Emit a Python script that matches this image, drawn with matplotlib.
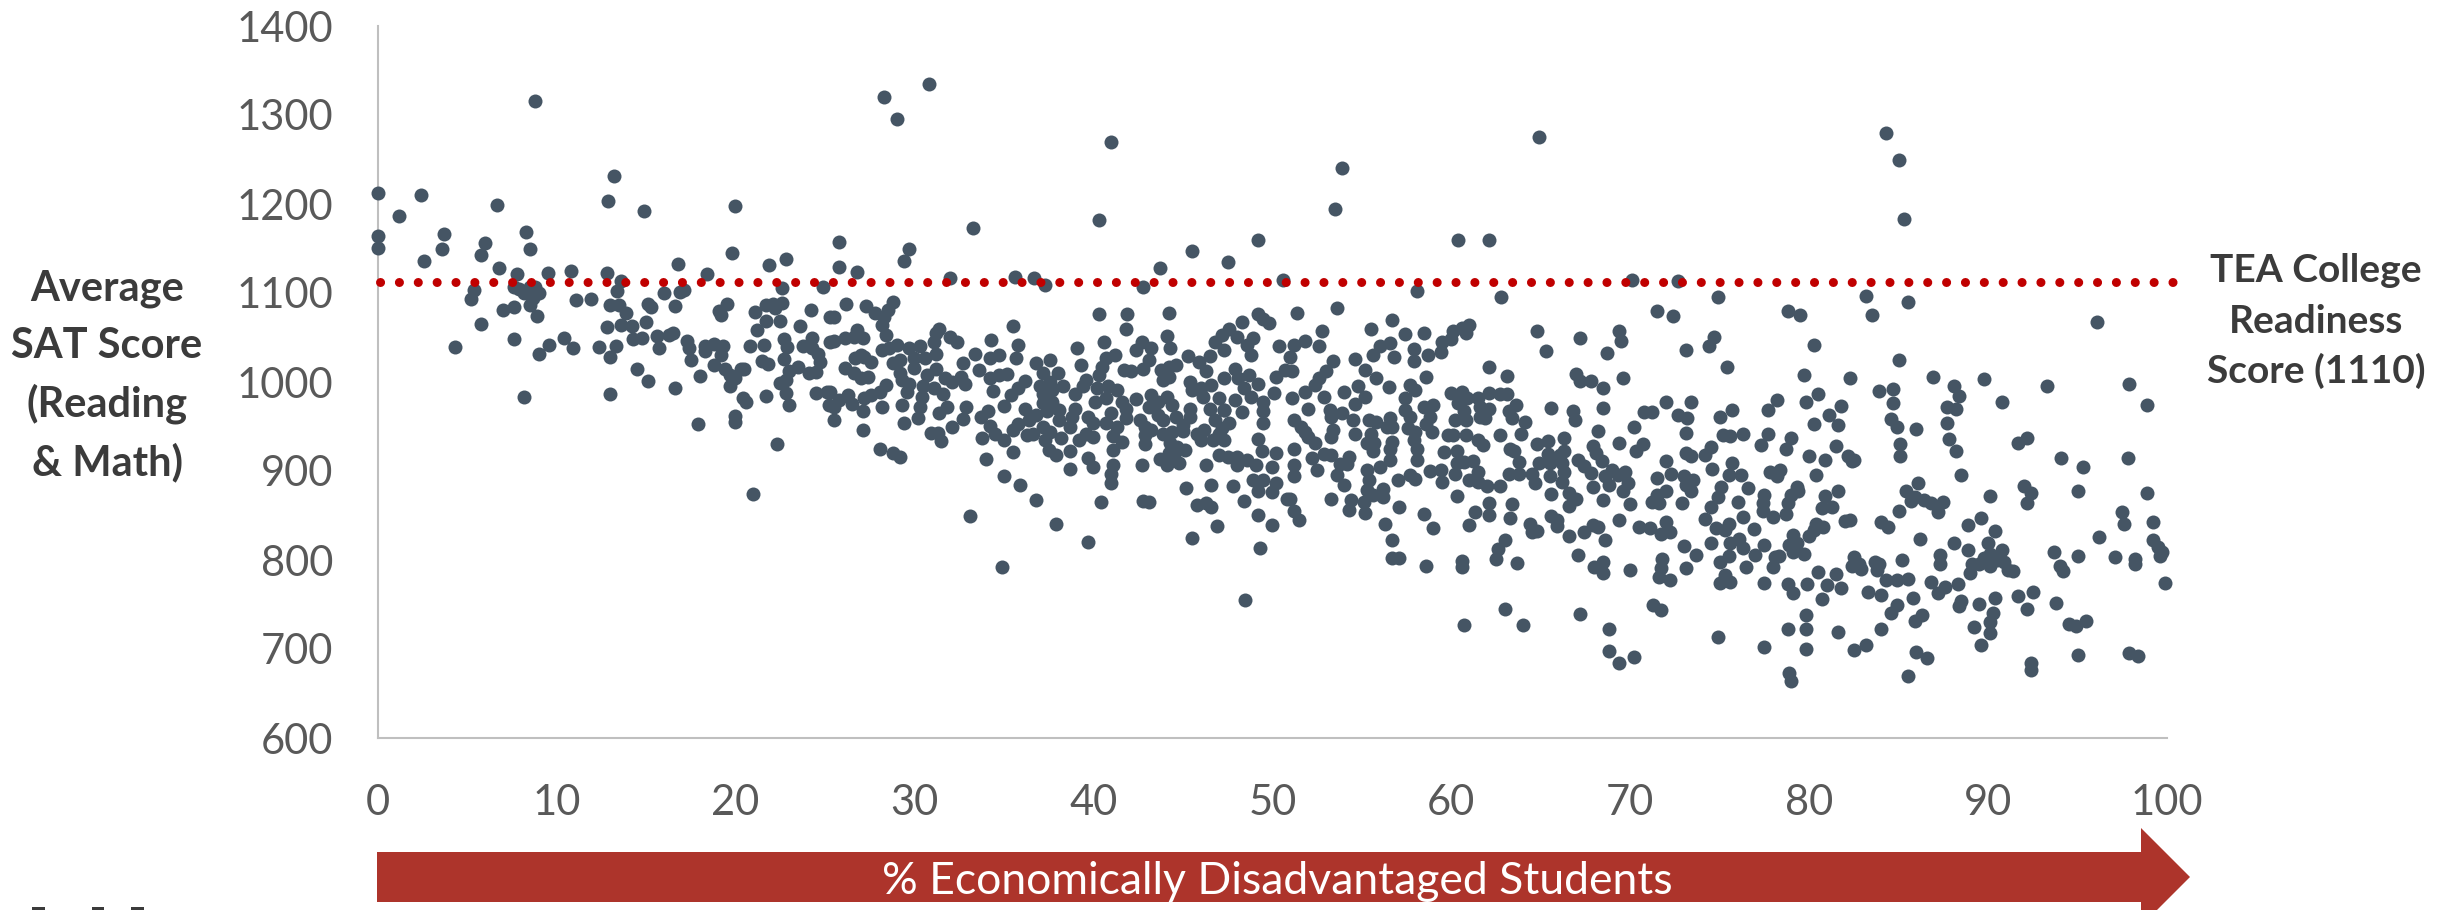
import matplotlib
matplotlib.use("Agg")
import matplotlib.pyplot as plt
from matplotlib.patches import Polygon, Rectangle

# (% economically disadvantaged, average SAT score)
schools_high_outliers = [
(0,1212),(1.2,1187),(2.4,1210),(0,1164),(0,1151),(2.6,1136),(3.7,1166),(3.6,1149),(6.7,1199),(6.0,1156),(5.8,1143),(6.8,1128),
(8.8,1316),(8.3,1168),(8.5,1150),(7.8,1121),(9.5,1123),(10.8,1125),(12.8,1122),(12.9,1203),(13.2,1231),(14.9,1192),(20.0,1198),
(19.8,1145),(16.8,1133),(18.4,1121),(21.9,1131),(22.8,1138),(28.3,1320),(30.8,1335),(29.0,1295),(41.0,1270),(40.3,1182),(33.3,1173),
(53.9,1240),(53.5,1194),(64.9,1275),(49.2,1160),(45.5,1147),(47.5,1135),(43.7,1128),(60.4,1160),(62.1,1160),(25.8,1157),(25.8,1129),
(26.8,1124),(29.7,1150),(29.4,1136),(32.0,1117),(35.6,1118),(36.7,1117),(50.6,1115),(58.1,1102),(62.8,1095),(70.1,1115),
(84.3,1280),(85.0,1250),(85.3,1183),(72.7,1113),(74.9,1095),(78.8,1080),(79.5,1075),(83.2,1097),(83.5,1075),(85.5,1090),(96.1,1067),
]
schools_0_to_25 = [
(5.4,1103),(5.2,1093),(5.8,1065),(4.3,1039),(7.0,1081),(7.6,1084),(7.6,1048),(8.2,983),(9.0,1032),(9.6,1042),(10.4,1050),(10.9,1038),
(12.4,1039),(13.3,1041),(13.0,1028),(13.0,986),(11.1,1092),(11.9,1093),(7.6,1107),(7.9,1104),(8.2,1100),(8.5,1107),(8.8,1107),(9.0,1100),
(8.7,1094),(8.5,1087),(8.9,1074),(13.6,1114),(13.4,1102),(13.0,1087),(13.5,1086),(13.9,1077),(12.8,1062),(13.6,1064),(14.2,1063),
(15.0,1067),(15.1,1088),(15.3,1084),(16.0,1100),(16.9,1101),(17.1,1103),(16.6,1085),(14.3,1048),(14.8,1050),(15.6,1052),(16.3,1053),
(16.5,1055),(15.7,1038),(14.5,1015),(15.1,1001),(16.6,993),(17.3,1046),(17.4,1038),(17.5,1025),(18.0,1007),(17.9,953),(20.0,962),
(20.0,955),(21.0,874),(22.3,930),(18.3,1040),(18.3,1035),(18.8,1043),(19.3,1040),(19.2,1030),(18.8,1019),(19.4,1015),(19.7,1008),
(20.0,1004),(19.7,996),(20.3,1015),(20.5,1015),(20.4,982),(20.6,978),(21.7,984),(21.5,1024),(21.8,1020),(20.8,1040),(21.6,1042),
(21.2,1058),(21.7,1069),(21.1,1079),(22.5,1069),(19.1,1080),(19.2,1075),(19.5,1088),(21.7,1087),(22.1,1088),(22.2,1083),(22.6,1089),
(22.6,1106),(24.2,1081),(24.9,1107),(23.6,1063),(22.7,1048),(22.9,1039),(22.7,1026),(23.5,1017),(23.0,1012),(22.8,1002),(22.5,999),
(22.8,988),(23.0,974),(24.1,1010),(24.5,1011),(24.7,1023),(24.6,1032),(24.3,1050),(23.8,1041),(24.3,1038),(24.5,988),(25.1,989),
(25.2,974),(25.3,1073),(25.3,1045),
]
schools_25_to_40 = [
(37.3,1109),(26.2,1088),(25.5,1073),(27.3,1085),(27.8,1077),(28.8,1090),(28.5,1081),(28.3,1073),(28.2,1064),(28.4,1053),(25.5,1046),
(26.1,1050),(26.6,1051),(26.8,1058),(27.1,1049),(27.0,1030),(27.2,1028),(26.7,1027),(27.6,1023),(26.1,1016),(26.6,1010),(27.0,1004),
(27.4,1006),(25.3,989),(26.3,985),(25.8,980),(26.5,975),(25.5,972),(25.5,957),(27.1,967),(27.1,946),(27.2,982),(27.6,985),(28.2,972),
(28.2,1036),(28.6,1038),(29.0,1042),(29.7,1038),(30.3,1040),(28.8,1021),(29.2,1025),(30.0,1027),(30.0,1016),(30.6,1027),(31.2,1032),
(31.1,1045),(31.2,1055),(31.4,1060),(32.0,1051),(32.4,1045),(31.2,1015),(30.7,1008),(29.2,1010),(29.3,1002),(29.7,998),(29.6,989),
(28.4,997),(28.1,989),(30.5,995),(31.1,993),(31.6,986),(31.7,1004),(32.1,1000),(32.6,1006),(32.8,998),(32.7,1021),(33.4,1031),
(33.6,1014),(30.4,983),(29.3,974),(30.3,972),(30.2,959),(29.4,954),(31.8,972),(31.4,965),(32.9,972),(32.7,958),(32.1,949),(30.9,943),
(31.3,943),(31.5,934),(28.1,925),(28.8,920),(29.2,916),(33.1,850),(34.0,913),(33.8,937),(34.2,951),(33.7,961),(34.1,967),(34.5,942),
(35.0,935),(35.5,921),(35.0,894),(35.9,884),(36.8,867),(37.9,840),(34.9,792),(38.7,902),(35.5,1063),(35.8,1042),(35.7,1027),(34.3,1047),
(34.2,1027),(34.7,1030),(34.2,1004),(34.7,1008),(35.2,1009),(34.4,990),(36.2,1001),(35.8,993),(35.4,985),(35.0,973),(36.2,970),
(36.8,1021),(37.6,1025),(37.2,1010),(38.0,1010),(37.6,1000),(37.0,995),(38.3,995),(37.7,991),(37.2,987),(37.2,976),(37.7,978),
(38.1,969),(37.4,967),(39.0,987),(39.0,970),(39.6,1002),(39.4,995),(38.8,961),(38.7,950),(38.2,937),(38.7,923),(37.9,918),(37.5,924),
(37.3,935),(37.6,944),(37.2,950),(38.1,957),(36.8,963),(36.4,957),(35.8,953),(35.5,946),(36.3,940),(36.6,942),(39.1,1038),(39.3,1019),
(39.7,961),(39.2,935),(39.6,942),(39.7,915),(39.7,820),
]
schools_40_to_51 = [
(42.8,1107),(40.0,905),(40.4,865),(41.1,907),(41.0,897),(41.0,887),(42.7,907),(41.1,924),(42.9,930),(42.8,866),(43.1,865),(45.2,881),
(46.6,884),(47.8,883),(46.3,907),(45.8,862),(46.3,864),(46.6,859),(48.4,866),(46.9,838),(45.5,825),(49.2,851),(50.0,839),(49.3,813),
(50.8,869),(49.2,877),(50.0,876),(48.9,890),(49.5,890),(50.2,887),(50.0,905),(49.1,907),(49.4,922),(50.2,920),(48.6,912),(48.0,916),
(48.0,907),(47.5,916),(47.0,918),(47.3,935),(46.7,935),(46.0,935),(45.8,942),(46.2,946),(47.0,942),(47.6,954),(46.8,957),(46.5,970),
(46.0,993),(45.4,1000),(45.5,991),(46.1,983),(46.3,1012),(46.6,997),(47.3,1005),(47.9,1015),(48.1,1004),(48.7,1008),(49.2,998),
(48.4,993),(48.8,983),(49.5,978),(50.1,988),(50.2,1006),(50.7,1014),(50.4,1040),(51.0,1028),(49.5,967),(49.5,954),(48.3,966),(47.9,980),
(47.0,982),(47.3,968),(45.4,970),(45.4,961),(45.3,1029),(45.9,1023),(46.5,1029),(44.2,1078),(44.1,1052),(44.3,1038),(48.3,1067),
(49.2,1076),(49.5,1071),(49.8,1066),(48.9,1050),(48.8,1030),(48.6,1042),(48.0,1051),(47.6,1060),(47.2,1053),(46.8,1045),(47.3,1036),
(40.3,1076),(41.9,1076),(41.8,1060),(40.6,1045),(42.7,1045),(42.4,1036),(43.2,1038),(43.1,1025),(42.8,1015),(42.1,1012),(41.7,1013),
(41.2,1030),(40.7,1027),(40.5,1017),(40.3,1008),(44.6,1019),(44.2,1017),(43.8,1013),(43.9,1002),(44.2,1006),(40.2,993),(40.8,995),
(41.3,991),(40.7,982),(40.1,978),(41.6,978),(42.4,981),(43.2,985),(44.1,983),(43.6,978),(44.4,974),(43.1,972),(41.8,970),(41.0,965),
(41.8,959),(43.6,963),(44.6,961),(43.9,957),(42.6,957),(42.9,950),(40.7,954),(41.3,950),(41.1,939),(41.6,933),(40.0,954),(40.0,938),
(42.9,940),(43.2,946),(43.9,942),(44.4,944),(45.0,945),(43.7,914),(44.1,907),(44.3,931),(44.7,927),(45.1,924),(44.5,918),(44.8,909),
(44.2,920),(44.5,912),(48.5,755),(47.3,968),(45.0,952),(49.2,936),(47.2,948),
]
schools_51_to_63 = [
(51.4,1077),(53.6,1083),(51.2,1042),(51.8,1046),(52.6,1041),(52.8,1057),(55.5,1060),(56.7,1070),(57.4,1054),(58.5,1055),(56.6,1044),
(56.0,1041),(55.6,1030),(56.8,1028),(57.9,1037),(57.9,1024),(58.7,1030),(59.4,1034),(59.5,1045),(60.0,1048),(60.1,1057),(60.6,1061),
(61.0,1064),(60.8,1055),(54.6,1026),(53.4,1024),(53.0,1012),(52.6,1004),(52.4,997),(51.1,1012),(55.2,1013),(55.8,1004),(58.6,1006),
(56.5,994),(57.7,997),(58.0,991),(54.8,995),(54.0,989),(55.2,983),(51.8,989),(52.9,983),(54.6,975),(51.1,982),(52.0,970),(53.2,968),
(53.3,961),(53.9,965),(54.5,957),(57.4,982),(57.4,968),(57.7,961),(58.5,972),(59.0,974),(58.8,961),(58.6,953),(57.6,948),(58.9,944),
(58.0,944),(57.9,935),(58.1,925),(58.1,912),(56.6,959),(56.7,950),(55.4,957),(55.8,955),(56.4,950),(55.5,942),(55.3,931),(55.7,931),
(56.7,933),(56.6,925),(55.6,922),(54.6,942),(53.3,938),(53.4,946),(51.8,944),(51.6,950),(51.2,957),(52.4,932),(52.0,938),(51.2,925),
(52.2,915),(52.9,919),(53.3,918),(54.3,916),(53.8,908),(54.2,908),(52.5,901),(51.2,907),(51.2,894),(53.6,896),(54.0,884),(55.3,901),
(55.4,890),(56.0,905),(56.6,912),(57.0,890),(57.7,896),(58.0,891),(58.8,900),(59.4,901),(59.5,888),(60.2,897),(60.3,909),(60.7,910),
(61.2,911),(61.5,899),(61.0,890),(61.5,888),(62.0,883),(62.7,883),(59.8,940),(60.1,940),(60.8,940),(61.5,935),(61.8,929),(59.6,921),
(60.3,922),(60.0,988),(60.6,989),(60.9,982),(60.4,976),(60.7,967),(60.2,957),(60.8,957),(61.5,982),(62.1,988),(62.7,986),(62.1,1017),
(61.6,972),(61.6,961),(62.1,970),(61.9,959),(62.7,940),(60.3,872),(61.3,854),(61.0,839),(62.1,864),(62.1,851),(62.6,812),(62.5,801),
(60.6,799),(60.6,792),(58.6,793),(56.7,802),(57.1,802),(56.7,822),(56.3,840),(58.5,852),(59.0,836),(57.1,860),(53.3,869),(54.4,867),
(54.3,856),(55.2,853),(55.1,865),(51.2,855),(51.5,845),(51.0,868),(55.3,879),(55.6,873),(56.2,871),(56.2,880),(60.7,727),(63.0,745),
]
schools_63_to_77 = [
(63.1,987),(63.1,1007),(64.8,1057),(65.3,1035),(67.2,1049),(68.7,1033),(69.4,1057),(69.5,1046),(71.5,1080),(72.4,1074),(73.1,1036),
(74.7,1051),(74.4,1040),(75.4,1017),(67.0,1009),(67.2,1001),(67.8,1001),(68.5,993),(69.6,1004),(68.5,971),(65.6,971),(66.8,967),
(66.9,957),(63.6,974),(63.2,967),(63.4,959),(64.1,955),(63.9,942),(68.2,945),(67.9,928),(68.1,920),(68.4,911),(67.1,912),(67.4,906),
(67.8,898),(69.4,931),(70.3,923),(70.7,930),(70.2,950),(70.8,966),(71.2,966),(72.0,977),(72.7,963),(73.2,960),(73.4,977),(73.1,943),
(73.1,920),(73.4,917),(72.0,911),(75.0,961),(75.7,969),(75.2,940),(75.6,939),(76.3,942),(74.5,927),(74.2,918),(74.6,902),(75.7,909),
(75.5,896),(76.2,895),(76.6,881),(63.2,897),(63.8,897),(63.8,910),(64.5,897),(64.7,887),(65.5,894),(64.9,909),(65.4,919),(65.5,909),
(66.2,909),(66.3,899),(66.2,888),(64.8,930),(65.4,934),(66.3,937),(66.3,922),(66.1,918),(63.3,925),(63.5,923),(69.0,901),(69.7,899),
(69.3,895),(68.6,894),(67.9,882),(68.8,884),(69.9,886),(69.6,877),(68.5,867),(70.0,863),(69.4,845),(71.5,892),(72.3,897),(73.0,894),
(73.5,890),(73.1,884),(73.4,877),(72.0,877),(71.5,873),(71.2,865),(71.6,864),(72.9,864),(75.1,882),(74.9,871),(74.5,860),(76.0,865),
(74.2,846),(76.3,848),(74.8,836),(75.3,834),(75.5,841),(72.0,843),(70.5,837),(71.1,836),(71.7,829),(72.2,831),(73.0,816),(73.7,806),
(74.5,819),(75.6,819),(76.1,824),(76.3,814),(75.5,805),(75.0,798),(73.1,791),(71.8,801),(71.7,791),(71.6,781),(72.2,777),(70.0,789),
(75.3,783),(75.0,774),(75.6,775),(76.5,792),(66.6,875),(67.0,868),(66.6,861),(65.6,874),(65.6,849),(65.9,845),(65.9,838),(66.6,827),
(67.4,831),(67.9,839),(68.2,837),(68.6,823),(64.4,840),(64.5,832),(64.8,833),(67.1,806),(68.0,792),(68.5,798),(68.5,785),(63.0,822),
(63.7,797),(63.4,863),(63.3,847),(64.0,727),(67.2,739),(68.8,723),(68.8,698),(69.4,684),(70.2,691),(71.3,749),(71.7,744),(74.9,713),
]
schools_77_to_100 = [
(80.3,1042),(85.0,1025),(79.7,1008),(82.3,1005),(83.9,990),(84.7,992),(84.7,976),(86.9,1006),(88.1,996),(88.4,984),(87.7,972),(88.2,970),
(89.8,1003),(90.8,977),(93.3,996),(97.9,998),(98.9,974),(80.5,986),(79.8,977),(81.8,973),(81.1,963),(80.3,953),(81.6,952),(84.6,958),
(84.9,949),(86.0,947),(87.7,954),(87.8,936),(88.2,922),(85.1,930),(85.1,917),(78.2,980),(77.7,969),(77.7,942),(77.3,929),(79.0,937),
(78.7,925),(80.0,917),(80.9,912),(81.5,928),(80.4,895),(82.2,917),(82.4,911),(82.5,912),(88.5,895),(91.7,932),(92.2,937),(94.1,915),
(95.3,905),(97.8,915),(95.0,878),(98.9,875),(92.0,883),(92.4,875),(92.2,864),(90.1,872),(86.1,887),(85.4,877),(85.9,871),(85.7,866),
(86.4,867),(86.8,864),(87.5,865),(87.2,854),(85.0,855),(89.6,847),(88.9,839),(90.4,833),(84.0,843),(84.4,837),(86.2,824),(88.1,819),
(88.9,811),(90.0,819),(90.8,811),(90.1,807),(89.8,802),(90.5,800),(89.1,796),(89.5,796),(90.1,793),(90.9,798),(91.1,789),(91.4,788),
(89.0,785),(87.3,806),(87.3,795),(85.2,800),(93.7,809),(95.0,804),(94.0,793),(94.2,788),(97.1,803),(98.2,801),(98.2,795),(97.5,854),
(97.6,840),(99.2,843),(96.2,826),(99.2,822),(99.5,815),(99.7,809),(99.6,804),(99.9,774),(77.5,702),(78.8,722),(79.8,738),(79.8,722),
(79.8,700),(81.6,719),(82.5,699),(83.2,704),(78.9,673),(79.0,664),(85.5,670),(86.0,697),(86.6,690),(84.0,723),(84.6,741),(84.9,749),
(85.9,731),(86.3,738),(89.2,725),(90.1,730),(90.3,741),(90.1,718),(89.6,705),(93.8,752),(92.2,745),(94.5,728),(94.9,726),(95.5,732),
(95.0,693),(97.9,695),(98.4,692),(92.4,684),(92.4,676),(77.5,873),(77.4,864),(77.4,855),(78.0,848),(78.7,852),(78.8,864),(79.0,873),
(79.3,882),(79.4,877),(76.9,835),(77.5,817),(77.0,806),(77.8,899),(78.4,901),(78.2,894),(80.9,872),(81.6,878),(80.7,858),(81.3,859),
(82.0,844),(82.3,845),(80.4,840),(80.8,837),(80.3,834),(80.0,827),(79.1,828),(78.9,817),(79.3,819),(79.1,809),(79.7,807),(78.1,803),
(78.3,804),(78.0,792),(77.5,774),(78.8,773),(79.1,763),(79.9,773),(80.5,787),(81.5,784),(81.0,772),(81.8,769),(80.7,756),(83.3,764),
(84.0,761),(82.5,803),(82.8,796),(82.4,793),(82.9,790),(83.7,798),(83.9,796),(83.8,789),(84.3,777),(84.9,777),(85.5,779),(85.8,757),
(86.8,775),(87.6,770),(88.3,773),(87.2,763),(88.5,754),(88.4,748),(89.5,751),(90.4,757),(91.7,759),(92.5,764),
]

x_ticks = list(range(0, 101, 10))
y_ticks = list(range(600, 1401, 100))
readiness_score_drawn = 1112
y_title_lines = ["Average", "SAT Score", "(Reading", "& Math)"]
readiness_lines = ["TEA College", "Readiness", "Score (1110)"]
arrow_label = "% Economically Disadvantaged Students"

W, H = 2458, 910
DOT = "#455564"
plt.rcParams["font.family"] = ["Lato", "DejaVu Sans"]

fig = plt.figure(figsize=(W / 100, H / 100), dpi=100, facecolor="white")
def fx(p): return p / W
def fy(p): return 1 - p / H

ax = fig.add_axes([fx(377.6), fy(738), (2167 - 377.6) / W, (738 - 26) / H])
ax.set_xlim(0, 100)
ax.set_ylim(600, 1400)

groups = [schools_high_outliers, schools_0_to_25, schools_25_to_40, schools_40_to_51,
          schools_51_to_63, schools_63_to_77, schools_77_to_100]
pct = [p[0] for g in groups for p in g]
sat = [p[1] for g in groups for p in g]
ax.scatter(pct, sat, s=(14 * 0.72) ** 2, color=DOT, linewidths=0, clip_on=False, zorder=3)

ax.plot([0.15, 101.2], [readiness_score_drawn] * 2, color="#C00000", lw=6.5,
        linestyle=(0, (0.01, 2.08)), dash_capstyle="round", clip_on=False, zorder=4)

for s in ("top", "right"):
    ax.spines[s].set_visible(False)
for s in ("left", "bottom"):
    ax.spines[s].set_color("#BFBFBF")
    ax.spines[s].set_linewidth(1.5)
ax.set_xticks(x_ticks)
ax.set_yticks(y_ticks)
ax.tick_params(axis="x", length=0, pad=33, labelsize=30, labelcolor="#595959")
ax.tick_params(axis="y", length=0, pad=32, labelsize=30, labelcolor="#595959")

for line, py in zip(y_title_lines, [289, 346, 404, 462]):
    fig.text(fx(107), fy(py), line, ha="center", va="center", fontsize=30,
             fontweight="bold", color="#3B3B3B")
for line, py in zip(readiness_lines, [270, 321, 371]):
    fig.text(fx(2316), fy(py), line, ha="center", va="center", fontsize=28,
             fontweight="bold", color="#3B3B3B")

arrow_px = [(377, 852), (2141, 852), (2141, 828), (2190, 877), (2141, 926), (2141, 902), (377, 902)]
fig.add_artist(Polygon([(fx(a), fy(b)) for a, b in arrow_px], closed=True,
                       transform=fig.transFigure, facecolor="#AD342B", edgecolor="none"))
fig.text(fx(1277), fy(882), arrow_label, ha="center", va="center", fontsize=32, color="white")

for a, b in [(32, 45), (92, 104), (131, 144)]:
    fig.add_artist(Rectangle((fx(a), 0), (b - a) / W, 3 / H, transform=fig.transFigure,
                             facecolor="#3B3B3B", edgecolor="none"))

fig.savefig("out.png", dpi=100, facecolor="white")
